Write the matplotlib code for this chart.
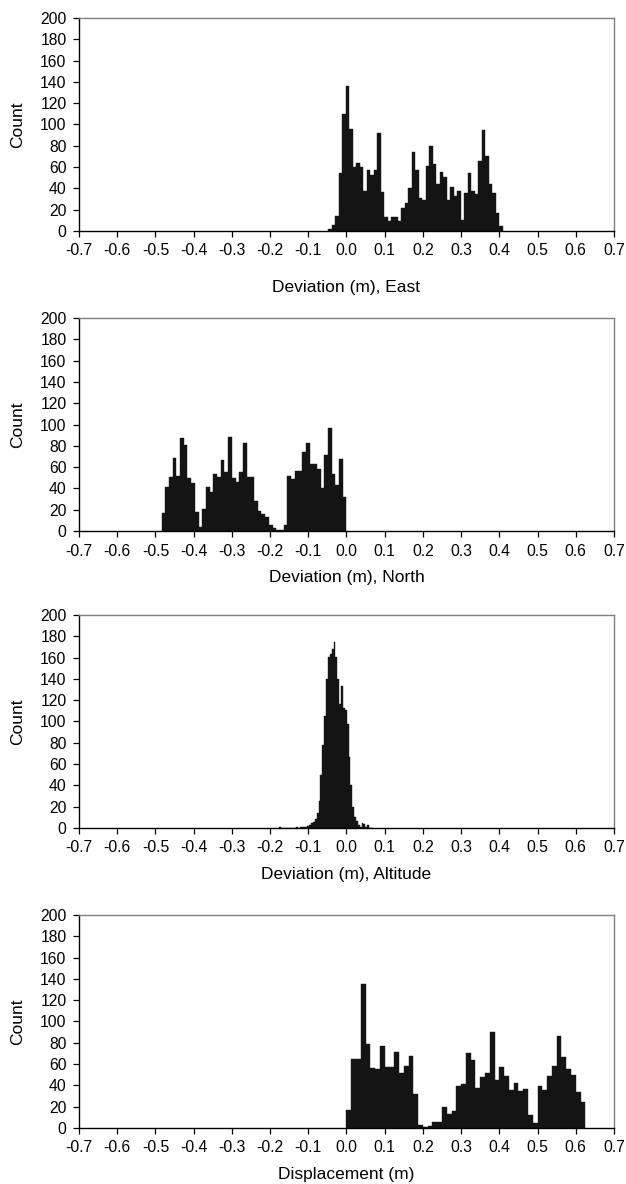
import numpy as np
import matplotlib
matplotlib.use("Agg")
import matplotlib.pyplot as plt

plt.rcParams['font.family'] = ['Liberation Sans', 'DejaVu Sans']

# histogram counts, 50 bins each
east_counts = [2, 6, 14, 54, 110, 136, 96, 60, 64, 60,
               38, 57, 53, 57, 92, 37, 13, 9, 13, 13,
               9, 22, 26, 40, 74, 57, 31, 29, 61, 80,
               63, 44, 55, 51, 29, 41, 33, 38, 10, 36,
               54, 38, 35, 66, 95, 70, 44, 36, 17, 5]
north_counts = [17, 41, 51, 69, 52, 87, 81, 50, 45, 18,
                4, 21, 41, 37, 54, 51, 67, 55, 88, 50,
                46, 55, 83, 51, 51, 28, 19, 16, 13, 6,
                3, 1, 1, 6, 52, 49, 56, 56, 74, 83,
                63, 63, 58, 40, 71, 97, 54, 43, 68, 32]
alt_counts = [1, 0, 0, 0, 0, 0, 0, 0, 0, 1,
              0, 1, 1, 1, 1, 2, 3, 5, 6, 8,
              14, 25, 50, 78, 105, 140, 161, 163, 168, 175,
              161, 140, 116, 133, 113, 111, 98, 67, 40, 20,
              10, 7, 3, 1, 5, 4, 1, 3, 0, 0]
disp_counts = [17, 65, 65, 135, 79, 56, 55, 77, 57, 57,
               71, 52, 58, 68, 32, 3, 1, 2, 6, 6,
               20, 13, 16, 39, 41, 70, 64, 38, 48, 52,
               90, 45, 57, 49, 36, 42, 35, 37, 12, 5,
               39, 36, 49, 58, 86, 67, 55, 50, 34, 24]

# left edge of first bin and bin width (m)
east_bins = (-0.048, 0.00914)
north_bins = (-0.484, 0.00968)
alt_bins = (-0.176, 0.0049)
disp_bins = (0.0, 0.0125)

xlabels = ["Deviation (m), East", "Deviation (m), North",
           "Deviation (m), Altitude", "Displacement (m)"]
xticks = [round(v, 1) for v in np.arange(-0.7, 0.71, 0.1)]
xtick_labels = ["0.0" if abs(v) < 1e-9 else "%.1f" % v for v in xticks]
yticks = list(range(0, 201, 20))

panels = [(east_counts, east_bins), (north_counts, north_bins),
          (alt_counts, alt_bins), (disp_counts, disp_bins)]

fig = plt.figure(figsize=(6.26, 11.84), dpi=100)
bottoms = [0.8049, 0.5515, 0.3007, 0.0473]
# xlabel centre below the axis, in axes fraction
label_y = [-0.265, -0.22, -0.22, -0.22]

for (counts, (start, step)), bot, label, ly in zip(panels, bottoms, xlabels, label_y):
    ax = fig.add_axes([0.1262, bot, 0.8546, 0.1799])
    lefts = start + step * np.arange(len(counts))
    ax.bar(lefts, counts, width=step, align='edge', color='#141414',
           edgecolor='#141414', linewidth=0.3)
    ax.set_xlim(-0.7, 0.7)
    ax.set_ylim(0, 200)
    ax.set_xticks(xticks)
    ax.set_xticklabels(xtick_labels)
    ax.set_yticks(yticks)
    ax.tick_params(direction='out', length=4, width=0.9, labelsize=11.3, pad=5)
    for side in ['left', 'bottom']:
        ax.spines[side].set_color('black')
        ax.spines[side].set_linewidth(1.0)
    for side in ['top', 'right']:
        ax.spines[side].set_color('#808080')
        ax.spines[side].set_linewidth(1.0)
    ax.set_ylabel("Count", fontsize=12.5)
    ax.yaxis.set_label_coords(-0.114, 0.5)
    ax.yaxis.label.set_va('center')
    ax.set_xlabel(label, fontsize=12.5)
    ax.xaxis.set_label_coords(0.5, ly)
    ax.xaxis.label.set_va('center')

plt.savefig("out.png", dpi=100)
